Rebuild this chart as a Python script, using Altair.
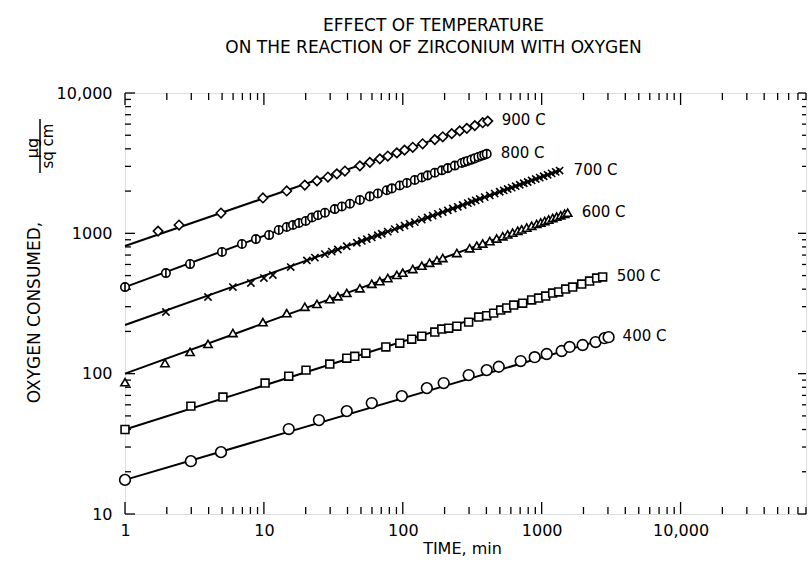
import altair as alt
import pandas as pd

# ---------------- data ----------------
series_names = ["900 C", "800 C", "700 C", "600 C", "500 C", "400 C"]

t900 = [1.73, 2.45, 4.91, 9.84, 14.6, 19.7, 24.1, 28.9, 33.5, 38.3, 49.1, 57.9, 68.3,
        78.0, 90.6, 103, 118, 139, 170, 194, 225, 257, 289, 330, 376, 409]
v900 = [1038, 1146, 1396, 1786, 2003, 2208, 2366, 2518, 2655, 2780, 3027, 3206, 3396,
        3556, 3741, 3919, 4104, 4345, 4656, 4875, 5129, 5370, 5598, 5861, 6138, 6310]

t800 = [1, 1.97, 2.94, 4.99, 6.95, 8.76, 10.9, 12.8, 14.6, 16.2, 17.9, 20.0, 22.2, 24.5,
        27.5, 32.4, 36.4, 41.6, 49.1, 57.9, 66.1, 76.7, 83.4, 95.1, 107, 122, 137, 151,
        170, 191, 211, 237, 266, 280, 294, 312, 330, 350, 370, 386, 402]
v800 = [414, 521, 604, 736, 839, 910, 972, 1056, 1110, 1146, 1185, 1224, 1298, 1345,
        1403, 1489, 1552, 1626, 1727, 1833, 1923, 2029, 2090, 2193, 2286, 2397, 2500, 2590,
        2700, 2812, 2917, 3040, 3170, 3230, 3281, 3350, 3420, 3500, 3572, 3620, 3681]

t700 = [1.97, 3.96, 5.98, 8.06, 10.0, 11.6, 15.6, 20.4, 23.3, 27.5, 30.8, 34.1, 39.5,
        46.7, 50.7, 55.1, 59.8, 66.1, 70.6, 78.0, 87.5, 95.1, 103, 112, 122, 137, 151,
        164, 179, 194, 211, 229, 249, 270, 294, 313, 335, 358, 389, 423, 459, 499, 533,
        569, 608, 650, 695, 743, 793, 847, 906, 968, 1033, 1104, 1180, 1262, 1346]
v700 = [275, 352, 414, 443, 480, 505, 575, 641, 671, 711, 741, 767, 809,
        857, 883, 910, 935, 970, 993, 1028, 1072, 1102, 1135, 1169, 1202, 1253, 1297,
        1337, 1377, 1416, 1459, 1503, 1545, 1592, 1641, 1679, 1718, 1758, 1811, 1862,
        1919, 1977, 2023, 2070, 2118, 2168, 2218, 2275, 2323, 2382, 2438, 2495, 2553,
        2612, 2673, 2742, 2800]

t600 = [1, 1.94, 2.94, 3.96, 5.98, 9.84, 14.6, 19.7, 24.1, 29.8, 34.1, 39.5, 49.1, 59.8,
        68.3, 78.0, 90.6, 100, 118, 137, 156, 176, 194, 245, 303, 341, 376, 423, 474,
        524, 569, 618, 672, 718, 780, 847, 920, 984, 1052, 1122, 1200, 1282, 1371, 1462,
        1538]
v600 = [87, 119, 143, 163, 195, 233, 270, 300, 314, 340, 356, 376, 406, 437,
        457, 480, 506, 525, 557, 588, 617, 643, 667, 724, 783, 817, 846, 881, 918,
        953, 982, 1012, 1042, 1067, 1099, 1132, 1167, 1194, 1225, 1253, 1285, 1315,
        1346, 1380, 1403]

t500 = [1, 2.98, 5.07, 10.2, 15.1, 20.1, 29.8, 39.5, 45.1, 54.2, 75.5, 95.1, 116, 137,
        170, 191, 214, 245, 298, 352, 402, 451, 507, 560, 629, 730, 847, 951, 1069,
        1200, 1325, 1489, 1671, 1941, 2213, 2488, 2748]
v500 = [40, 58.7, 68.1, 85.7, 96, 106, 117, 129, 133, 140, 155, 165, 176, 185,
        198, 208, 211, 218, 233, 253, 259, 270, 284, 294, 308, 318, 335, 346, 357,
        375, 382, 401, 414, 435, 457, 480, 489]

t400 = [1, 2.98, 4.91, 15.1, 24.9, 39.5, 59.8, 98.4, 149, 197, 298, 402, 491, 706,
        891, 1087, 1393, 1589, 1972, 2445, 2837, 3033]
v400 = [17.5, 23.8, 27.6, 40.3, 46.7, 54.1, 61.7, 69.2, 78.9, 85.7, 97.7, 106, 112, 123,
        131, 138, 145, 155, 160, 168, 179, 182]

# straight fitted lines (start / end)
fit_t_start = [1, 1, 1, 1, 1, 1]
fit_v_start = [812, 414, 222, 100, 40, 17.5]
fit_t_end = [409, 402, 1346, 1538, 2748, 3033]
fit_v_end = [6300, 3700, 2800, 1400, 480, 180]

# axis ticks
x_major = [1, 10, 100, 1000, 10000]
y_major = [10, 100, 1000, 10000]
minor_mult = [2, 3, 4, 5, 6, 7, 8, 9]
x_minor = [m * d for d in [1, 10, 100, 1000, 10000] for m in minor_mult if m * d <= 80000]
y_minor = [m * d for d in [10, 100, 1000] for m in minor_mult]

# ---------------- chart ----------------
W, H = 681, 421
FONT = "DejaVu Sans"
LABEL_EXPR = "datum.value >= 10000 ? '10,000' : format(datum.value, 'd')"

xs = alt.Scale(type="log", domain=[1, 80000], nice=False)
ys = alt.Scale(type="log", domain=[10, 10000], nice=False)

xaxis = alt.Axis(values=x_major, labelExpr=LABEL_EXPR, ticks=False, domain=False, grid=False,
                 labelFont=FONT, labelFontSize=16, labelPadding=8, labelFlush=False,
                 labelOverlap=False, labelColor="black",
                 title="TIME, min", titleFont=FONT, titleFontSize=16, titleFontWeight="normal",
                 titleX=337, titleY=34, titleAlign="center", titleBaseline="middle",
                 titleColor="black")
yaxis = alt.Axis(values=y_major, labelExpr=LABEL_EXPR, ticks=False, domain=False, grid=False,
                 labelFont=FONT, labelFontSize=16, labelPadding=13, labelFlush=False,
                 labelOverlap=False, labelColor="black",
                 title="OXYGEN CONSUMED,", titleFont=FONT, titleFontSize=17,
                 titleFontWeight="normal", titleAngle=270, titleX=-91, titleY=219,
                 titleAlign="center", titleBaseline="middle", titleColor="black")

X = alt.X("t:Q", scale=xs, axis=xaxis)
Y = alt.Y("v:Q", scale=ys, axis=yaxis)

layers = []

def vticks(vals, y0, y1):
    return alt.Chart(pd.DataFrame({"t": vals})).mark_rule(color="black", strokeWidth=1.3).encode(
        x=X, y=alt.value(y0), y2=alt.value(y1))

def hticks(vals, x0, x1):
    return alt.Chart(pd.DataFrame({"v": vals})).mark_rule(color="black", strokeWidth=1.3).encode(
        y=Y, x=alt.value(x0), x2=alt.value(x1))

layers += [
    vticks(x_major, H, H - 12), vticks(x_minor, H, H - 7),
    vticks(x_major, 0, 12), vticks(x_minor, 0, 7),
    hticks(y_major, 0, 10), hticks(y_minor, 0, 6),
    hticks(y_major, W, W - 8), hticks(y_minor, W, W - 4),
]

fit_rows = []
for s, t0, v0, t1, v1 in zip(series_names, fit_t_start, fit_v_start, fit_t_end, fit_v_end):
    fit_rows.append({"series": s, "t": t0, "v": v0})
    fit_rows.append({"series": s, "t": t1, "v": v1})
lines = alt.Chart(pd.DataFrame(fit_rows)).mark_line(color="black", strokeWidth=2).encode(
    x=X, y=Y, detail="series:N")
layers.append(lines)

circ_bar = "M-1,0A1,1 0 1,1 1,0A1,1 0 1,1 -1,0ZM0,-1L0,1"
x_mark = "M-1,-1L1,1M-1,1L1,-1"
styles = {
    "900 C": ("diamond", 90),
    "800 C": (circ_bar, 72),
    "700 C": (x_mark, 52),
    "600 C": ("triangle-up", 70),
    "500 C": ("square", 62),
    "400 C": ("circle", 115),
}
all_t = [t900, t800, t700, t600, t500, t400]
all_v = [v900, v800, v700, v600, v500, v400]
for s, ts, vs in zip(series_names, all_t, all_v):
    shape, size = styles[s]
    df = pd.DataFrame({"t": ts, "v": vs})
    layers.append(alt.Chart(df).mark_point(shape=shape, size=size, filled=True, fill="white",
                                           stroke="black", strokeWidth=1.6, opacity=1).encode(x=X, y=Y))

lab_df = pd.DataFrame({"label": series_names,
                       "t": [ts[-1] for ts in all_t],
                       "v": [vs[-1] for vs in all_v]})
labels = alt.Chart(lab_df).mark_text(align="left", baseline="middle", dx=14, dy=-1,
                                     font=FONT, fontSize=15, color="black").encode(
    x=X, y=Y, text="label:N")
layers.append(labels)

# unit fraction next to the y-axis title
frac_top = alt.Chart(pd.DataFrame({"s": ["μg"]})).mark_text(
    angle=270, align="center", baseline="middle", font=FONT, fontSize=16, color="black").encode(
    x=alt.value(-92), y=alt.value(55), text="s:N")
frac_bot = alt.Chart(pd.DataFrame({"s": ["sq cm"]})).mark_text(
    angle=270, align="center", baseline="middle", font=FONT, fontSize=15, color="black").encode(
    x=alt.value(-77), y=alt.value(53), text="s:N")
frac_bar = alt.Chart(pd.DataFrame({"s": [0]})).mark_rule(color="black", strokeWidth=1.5).encode(
    x=alt.value(-85), y=alt.value(26), y2=alt.value(80))
layers += [frac_top, frac_bot, frac_bar]

chart = alt.layer(*layers).properties(
    width=W, height=H,
    autosize=alt.AutoSizeParams(type="none"),
    padding={"left": 125, "top": 93, "right": 3, "bottom": 59},
    title=alt.TitleParams(text=["EFFECT OF TEMPERATURE", "ON THE REACTION OF ZIRCONIUM WITH OXYGEN"],
                          font=FONT, fontSize=17, fontWeight="normal", color="black",
                          anchor="middle", dx=-32, offset=28, lineHeight=22),
).configure_view(stroke="black", strokeWidth=2).configure(background="white")

chart.save("out.html", embed_options={"renderer": "svg", "actions": False})
